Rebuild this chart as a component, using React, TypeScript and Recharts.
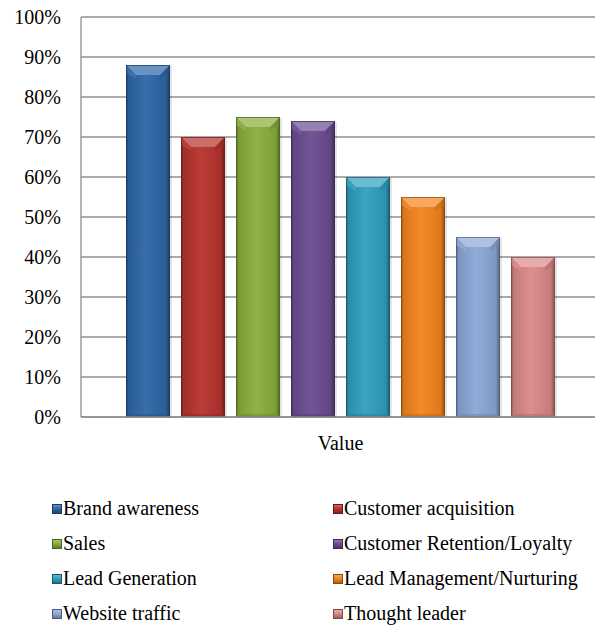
import React from 'react';
import { BarChart, Bar, XAxis, YAxis, CartesianGrid } from 'recharts';

const categories = ['Value'];
const seriesNames = [
  'Brand awareness',
  'Customer acquisition',
  'Sales',
  'Customer Retention/Loyalty',
  'Lead Generation',
  'Lead Management/Nurturing',
  'Website traffic',
  'Thought leader',
];
const seriesValues = [0.88, 0.7, 0.75, 0.74, 0.6, 0.55, 0.45, 0.4];
const seriesColors = ['#3068AA', '#B9342F', '#8CAF3E', '#6D4E93', '#31A1BF', '#F5861F', '#8DA9D8', '#DC8A89'];
const yTicks = [0, 0.1, 0.2, 0.3, 0.4, 0.5, 0.6, 0.7, 0.8, 0.9, 1];

const FONT = '"Liberation Serif", "Times New Roman", serif';

const data = categories.map((name) => {
  const row: Record<string, number | string> = { name };
  seriesValues.forEach((v, i) => {
    row[`s${i}`] = v;
  });
  return row;
});

function shade(hex: string, f: number) {
  const n = parseInt(hex.slice(1), 16);
  const ch = [(n >> 16) & 255, (n >> 8) & 255, n & 255].map((c) => {
    const v = f < 1 ? c * f : c + (255 - c) * (f - 1);
    return Math.max(0, Math.min(255, Math.round(v)));
  });
  return `rgb(${ch[0]},${ch[1]},${ch[2]})`;
}

// bar with an Excel-like bevel: lighter top face, darker edges
function makeShape(color: string, idx: number) {
  return (props: any) => {
    const { x, y, width: w, height: h } = props;
    if (!h || h <= 0) return <g />;
    const b = Math.min(10, h / 2);
    const gid = `bar-grad-${idx}`;
    return (
      <g>
        <defs>
          <linearGradient id={gid} x1="0" y1="0" x2="1" y2="0">
            <stop offset="0%" stopColor={shade(color, 0.6)} />
            <stop offset="6%" stopColor={shade(color, 0.88)} />
            <stop offset="45%" stopColor={shade(color, 1.04)} />
            <stop offset="90%" stopColor={shade(color, 0.9)} />
            <stop offset="100%" stopColor={shade(color, 0.58)} />
          </linearGradient>
        </defs>
        <rect x={x + 2} y={y + 1} width={w} height={h} fill="rgba(0,0,0,0.10)" />
        <rect x={x} y={y} width={w} height={h} fill={`url(#${gid})`} />
        <polygon
          points={`${x},${y} ${x + w},${y} ${x + w - b},${y + b} ${x + b},${y + b}`}
          fill={shade(color, 1.28)}
        />
        <polygon
          points={`${x},${y} ${x + b},${y + b} ${x + b},${y + b + 4} ${x},${y + 8}`}
          fill={shade(color, 1.12)}
          opacity={0.55}
        />
        <polygon
          points={`${x + w},${y} ${x + w - b},${y + b} ${x + w - b},${y + b + 4} ${x + w},${y + 8}`}
          fill={shade(color, 0.8)}
          opacity={0.5}
        />
        <rect x={x} y={y + h - 3} width={w} height={3} fill={shade(color, 0.8)} opacity={0.6} />
        <rect
          x={x + 0.5}
          y={y + 0.5}
          width={w - 1}
          height={h - 1}
          fill="none"
          stroke={shade(color, 0.55)}
          strokeWidth={1}
          opacity={0.7}
        />
      </g>
    );
  };
}

const shapes = seriesColors.map((c, i) => makeShape(c, i));

function LegendMarker({ color }: { color: string }) {
  return (
    <span
      style={{
        position: 'absolute',
        left: 0,
        top: 13,
        width: 10,
        height: 10,
        boxSizing: 'border-box',
        border: `1px solid ${shade(color, 0.55)}`,
        background: `linear-gradient(180deg, ${shade(color, 1.25)} 0%, ${color} 45%, ${shade(color, 0.7)} 100%)`,
      }}
    />
  );
}

export default function App() {
  return (
    <div style={{ position: 'relative', width: 595, height: 617, fontFamily: FONT }}>
      <BarChart
        width={595}
        height={460}
        data={data}
        margin={{ top: 9, right: 3, left: 0, bottom: 11 }}
        barCategoryGap={45}
        barGap={11}
        style={{ fontFamily: FONT }}
      >
        <CartesianGrid vertical={false} stroke="#8f8f8f" strokeWidth={1.3} />
        <XAxis
          dataKey="name"
          height={40}
          tickLine={false}
          tickSize={0}
          tickMargin={19}
          stroke="#8f8f8f"
          strokeWidth={1.3}
          tick={{ fill: '#000', fontSize: 20, fontFamily: FONT }}
        />
        <YAxis
          width={73}
          domain={[0, 1]}
          ticks={yTicks}
          interval={0}
          tickLine={false}
          tickSize={0}
          tickMargin={20}
          stroke="#8f8f8f"
          strokeWidth={1.3}
          tickFormatter={(v: number) => `${Math.round(v * 100)}%`}
          tick={{ fill: '#000', fontSize: 20, fontFamily: FONT }}
        />
        {seriesNames.map((name, i) => (
          <Bar
            key={name}
            dataKey={`s${i}`}
            name={name}
            fill={seriesColors[i]}
            shape={shapes[i]}
            isAnimationActive={false}
          />
        ))}
      </BarChart>
      <div style={{ position: 'absolute', left: 0, top: 483, width: 595 }}>
        {seriesNames.map((name, i) => {
          const col = i % 2;
          const row = Math.floor(i / 2);
          return (
            <div
              key={name}
              style={{
                position: 'absolute',
                left: col === 0 ? 44 : 325,
                top: row * 35,
                height: 35,
                lineHeight: '35px',
                fontSize: 20,
                whiteSpace: 'nowrap',
                paddingLeft: 11,
                color: '#000',
              }}
            >
              <LegendMarker color={seriesColors[i]} />
              {name}
            </div>
          );
        })}
      </div>
    </div>
  );
}
